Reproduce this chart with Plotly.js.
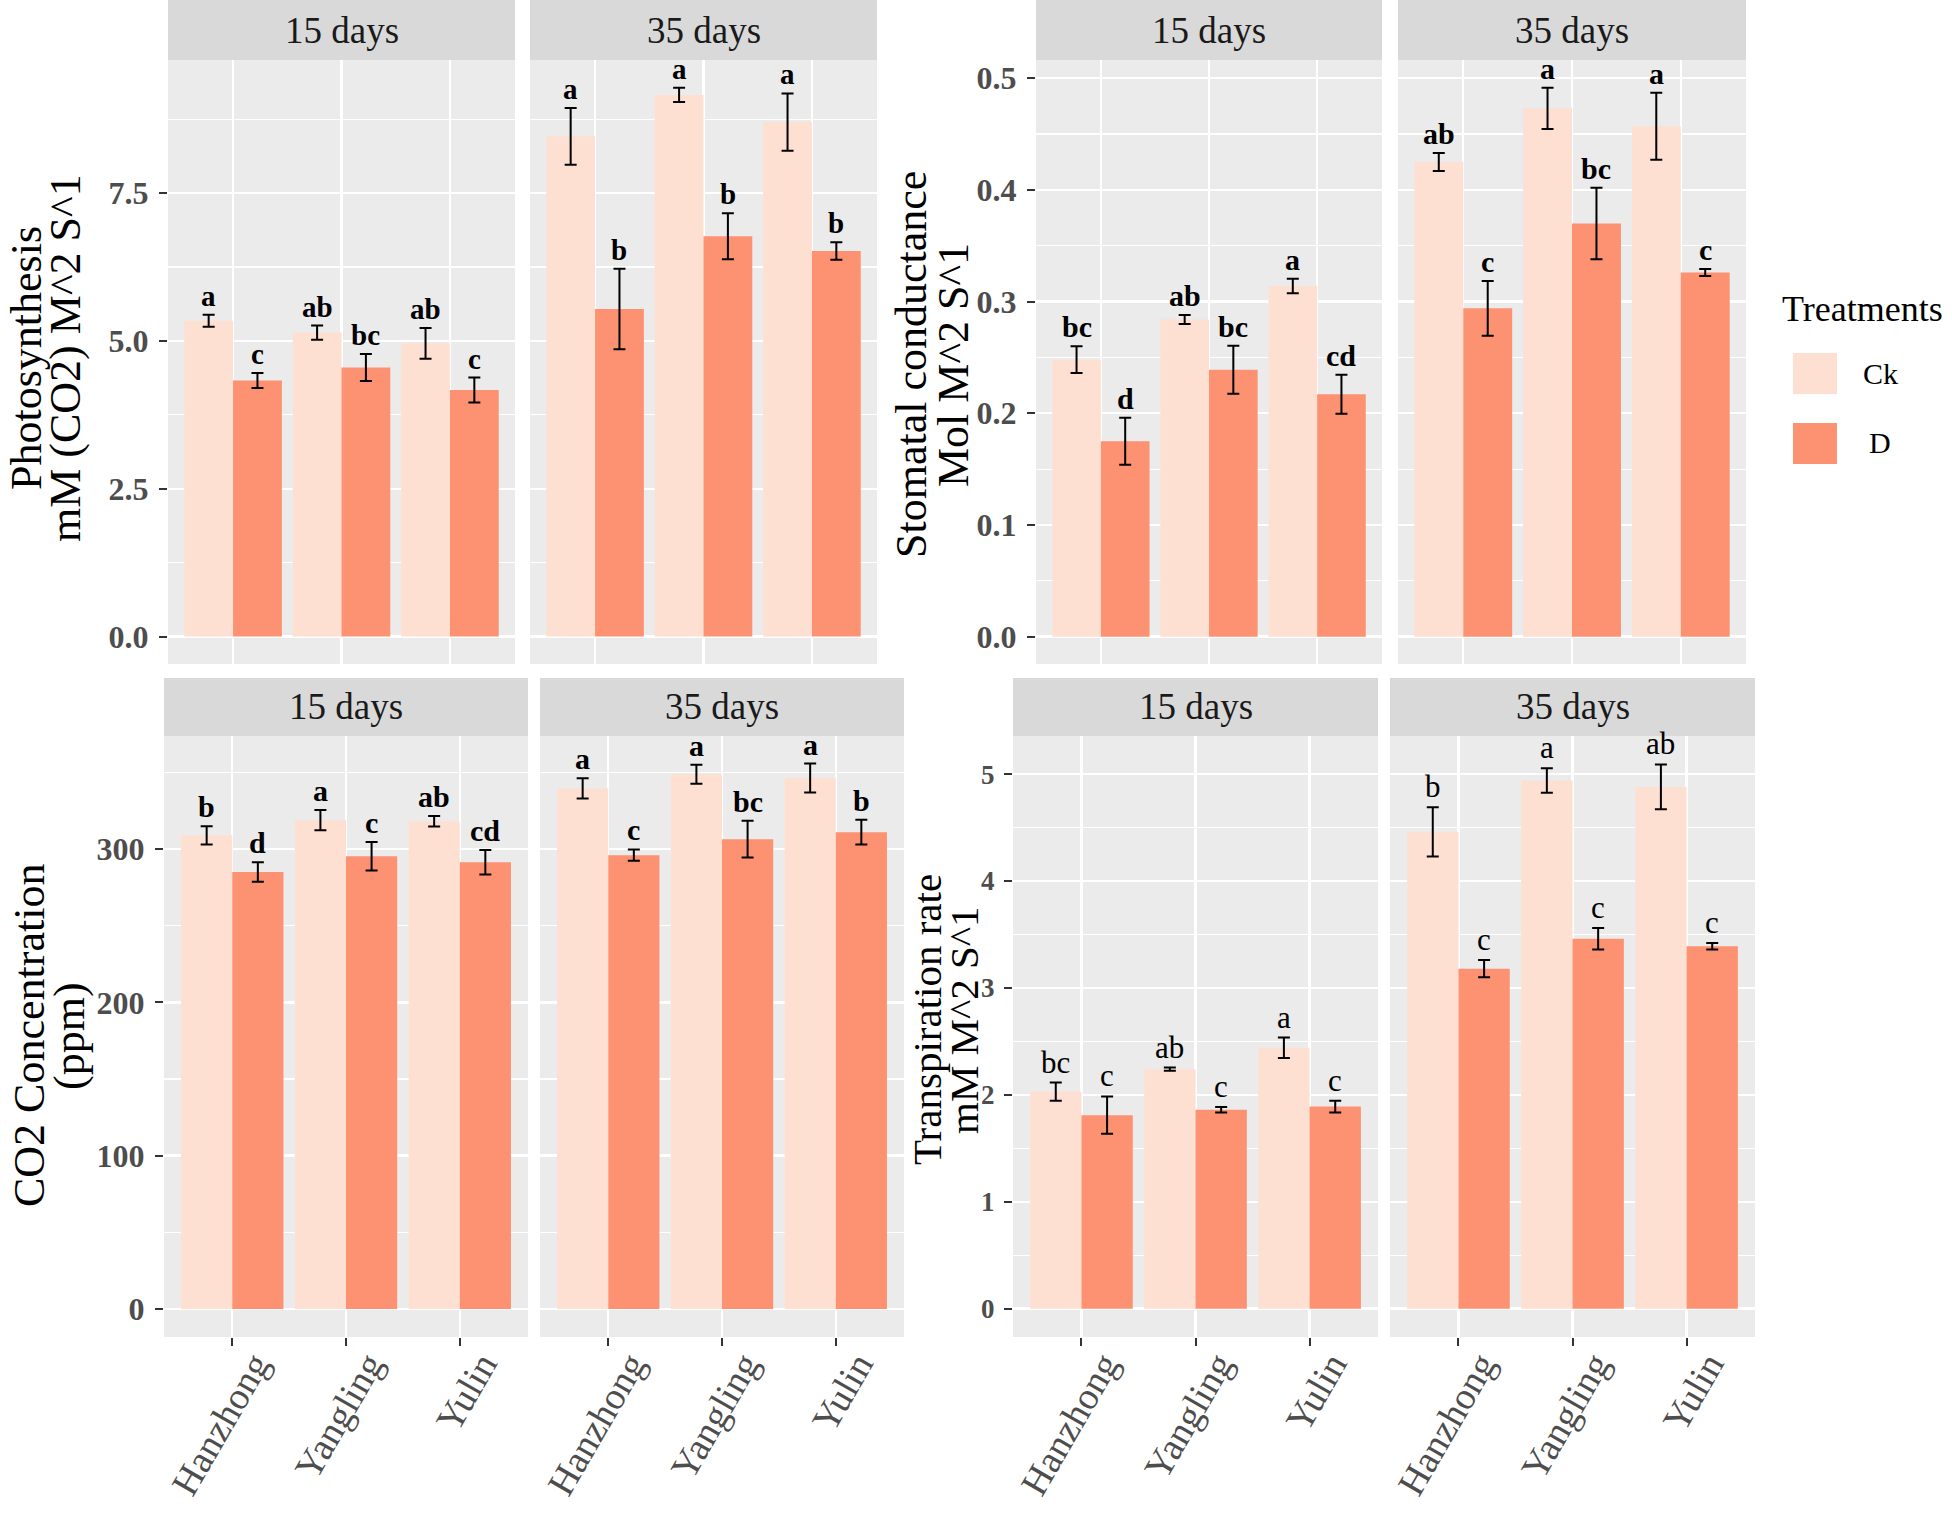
<!DOCTYPE html>
<html><head><meta charset="utf-8">
<script src="https://cdn.plot.ly/plotly-3.0.1.min.js"></script>
<style>html,body{margin:0;padding:0;background:#fff}</style>
</head><body><div id="chart" style="width:1952px;height:1516px"></div>
<script>
// ---------------- DATA ----------------
const sites = ['Hanzhong', 'Yangling', 'Yulin'];
const treatments = ['Ck', 'D'];
const periods = ['15 days', '35 days'];
const barColors = ['#FEE0D2', '#FC9272'];

// Photosynthesis
const photoCk15 = [5.34, 5.14, 4.96];  const photoCk15Se = [0.10, 0.12, 0.26];  const photoCk15Let = ['a', 'ab', 'ab'];
const photoD15  = [4.33, 4.55, 4.17];  const photoD15Se  = [0.125, 0.23, 0.21]; const photoD15Let  = ['c', 'bc', 'c'];
const photoCk35 = [8.46, 9.16, 8.70];  const photoCk35Se = [0.48, 0.12, 0.485]; const photoCk35Let = ['a', 'a', 'a'];
const photoD35  = [5.54, 6.77, 6.52];  const photoD35Se  = [0.68, 0.39, 0.15];  const photoD35Let  = ['b', 'b', 'b'];

// Stomatal conductance
const stomCk15 = [0.248, 0.284, 0.314]; const stomCk15Se = [0.012, 0.004, 0.0065];  const stomCk15Let = ['bc', 'ab', 'a'];
const stomD15  = [0.175, 0.239, 0.217]; const stomD15Se  = [0.021, 0.0215, 0.0175]; const stomD15Let  = ['d', 'bc', 'cd'];
const stomCk35 = [0.425, 0.473, 0.457]; const stomCk35Se = [0.008, 0.0185, 0.030];  const stomCk35Let = ['ab', 'a', 'a'];
const stomD35  = [0.294, 0.370, 0.326]; const stomD35Se  = [0.0245, 0.032, 0.0032]; const stomD35Let  = ['c', 'bc', 'c'];

// CO2 concentration
const co2Ck15 = [308.9, 318.8, 318.1]; const co2Ck15Se = [5.9, 6.6, 3.5];  const co2Ck15Let = ['b', 'a', 'ab'];
const co2D15  = [285.0, 295.3, 291.4]; const co2D15Se  = [6.4, 9.3, 8.0];  const co2D15Let  = ['d', 'c', 'cd'];
const co2Ck35 = [339.5, 348.8, 346.3]; const co2Ck35Se = [6.6, 6.2, 9.4];  const co2Ck35Let = ['a', 'a', 'a'];
const co2D35  = [296.0, 306.4, 311.0]; const co2D35Se  = [3.7, 12.0, 8.0]; const co2D35Let  = ['c', 'bc', 'b'];

// Transpiration rate
const tranCk15 = [2.03, 2.24, 2.44]; const tranCk15Se = [0.085, 0.015, 0.095]; const tranCk15Let = ['bc', 'ab', 'a'];
const tranD15  = [1.81, 1.86, 1.89]; const tranD15Se  = [0.175, 0.025, 0.055]; const tranD15Let  = ['c', 'c', 'c'];
const tranCk35 = [4.46, 4.94, 4.88]; const tranCk35Se = [0.23, 0.115, 0.21];   const tranCk35Let = ['b', 'a', 'ab'];
const tranD35  = [3.18, 3.46, 3.39]; const tranD35Se  = [0.08, 0.10, 0.03];    const tranD35Let  = ['c', 'c', 'c'];

// Axis titles
const titlePhoto = ['Photosynthesis', 'mM (CO2) M^2 S^1'];
const titleStom  = ['Stomatal conductance', 'Mol M^2 S^1'];
const titleCo2   = ['CO2 Concentration', '(ppm)'];
const titleTran  = ['Transpiration rate', 'mM M^2 S^1'];
const legendTitle = 'Treatments';

// ---------------- LAYOUT HELPERS ----------------
const W = 1952, H = 1516;
const FONT = 'Liberation Serif, Times New Roman, serif';
const px = v => v / W;
const py = v => 1 - v / H;

// groups: each is one ggplot with two facets
const groups = [
  { panels: [[168, 515], [530, 877]], stripTop: 0, stripBot: 60, bottom: 664,
    data: [[photoCk15, photoCk15Se, photoCk15Let, photoD15, photoD15Se, photoD15Let],
           [photoCk35, photoCk35Se, photoCk35Let, photoD35, photoD35Se, photoD35Let]],
    range: [-0.464, 9.75], dtick: 2.5, fmt: '.1f', tickSize: 32, letSize: 29, letWeight: 'bold',
    title: titlePhoto, titleSize: 44, titleX: [26, 65], titleY: 358, xlabels: false },
  { panels: [[1036, 1382], [1398, 1746]], stripTop: 0, stripBot: 60, bottom: 664,
    data: [[stomCk15, stomCk15Se, stomCk15Let, stomD15, stomD15Se, stomD15Let],
           [stomCk35, stomCk35Se, stomCk35Let, stomD35, stomD35Se, stomD35Let]],
    range: [-0.0245, 0.5163], dtick: 0.1, fmt: '.1f', tickSize: 32, letSize: 30, letWeight: 'bold',
    title: titleStom, titleSize: 44, titleX: [911, 953], titleY: 365, xlabels: false },
  { panels: [[164, 528], [540, 904]], stripTop: 678, stripBot: 736, bottom: 1337,
    data: [[co2Ck15, co2Ck15Se, co2Ck15Let, co2D15, co2D15Se, co2D15Let],
           [co2Ck35, co2Ck35Se, co2Ck35Let, co2D35, co2D35Se, co2D35Let]],
    range: [-18.3, 373.7], dtick: 100, fmt: 'd', tickSize: 32, letSize: 30, letWeight: 'bold',
    title: titleCo2, titleSize: 44, titleX: [29, 69], titleY: 1036, xlabels: true },
  { panels: [[1013, 1378], [1390, 1755]], stripTop: 678, stripBot: 736, bottom: 1337,
    data: [[tranCk15, tranCk15Se, tranCk15Let, tranD15, tranD15Se, tranD15Let],
           [tranCk35, tranCk35Se, tranCk35Let, tranD35, tranD35Se, tranD35Let]],
    range: [-0.265, 5.356], dtick: 1, fmt: 'd', tickSize: 27, letSize: 31, letWeight: 'normal',
    title: titleTran, titleSize: 41, titleX: [927, 964], titleY: 1020, xlabels: true }
];

const traces = [];
const shapes = [];
const annotations = [];
const layout = {
  width: W, height: H, autosize: false,
  margin: { l: 0, r: 0, t: 0, b: 0, pad: 0 },
  paper_bgcolor: '#FFFFFF', plot_bgcolor: '#EBEBEB',
  barmode: 'group', bargap: 0.1, bargroupgap: 0,
  showlegend: false,
  font: { family: FONT, color: '#000' }
};

let idx = 0;
groups.forEach(g => {
  g.panels.forEach((p, k) => {
    idx++;
    const sfx = idx === 1 ? '' : String(idx);
    const xr = 'x' + sfx, yr = 'y' + sfx;
    const d = g.data[k];
    // bars
    [0, 1].forEach(t => {
      traces.push({
        type: 'bar', x: sites, y: d[t * 3], name: treatments[t],
        marker: { color: barColors[t], line: { width: 0 } },
        error_y: { type: 'data', array: d[t * 3 + 1], visible: true, color: '#000000', thickness: 2, width: 6 },
        xaxis: xr, yaxis: yr, showlegend: false, hoverinfo: 'x+y+name'
      });
      // letters
      d[t * 3].forEach((m, i) => {
        annotations.push({
          xref: xr, yref: yr, x: i + (t === 0 ? -0.225 : 0.225), y: m + d[t * 3 + 1][i],
          text: d[t * 3 + 2][i], showarrow: false, xanchor: 'center', yanchor: 'bottom', yshift: 1,
          font: { family: FONT, size: g.letSize, color: '#000', weight: g.letWeight }
        });
      });
    });
    // axes
    layout['xaxis' + sfx] = {
      domain: [px(p[0]), px(p[1])], anchor: yr, type: 'category',
      categoryorder: 'array', categoryarray: sites, range: [-0.6, 2.6],
      showgrid: true, gridcolor: '#FFFFFF', gridwidth: 2.4, zeroline: false, showline: false,
      ticks: g.xlabels ? 'outside' : '', ticklen: 8, tickwidth: 2, tickcolor: '#333333',
      showticklabels: g.xlabels, tickangle: -60, ticklabelshift: 22, ticklabelstandoff: -19,
      tickfont: { family: FONT, size: 38, color: '#4D4D4D' }, fixedrange: true
    };
    layout['yaxis' + sfx] = {
      domain: [py(g.bottom), py(g.stripBot)], anchor: xr, range: g.range,
      tick0: 0, dtick: g.dtick, tickformat: g.fmt,
      showgrid: true, gridcolor: '#FFFFFF', gridwidth: 2.4, zeroline: false, showline: false,
      minor: { tick0: 0, dtick: g.dtick / 2, showgrid: true, gridcolor: '#FFFFFF', gridwidth: 1.2, ticks: '' },
      ticks: k === 0 ? 'outside' : '', ticklen: 8, tickwidth: 2, tickcolor: '#333333',
      showticklabels: k === 0, ticklabelstandoff: 4,
      tickfont: { family: FONT, size: g.tickSize, color: '#4D4D4D', weight: 'bold' }, fixedrange: true
    };
    // strip
    shapes.push({ type: 'rect', xref: 'paper', yref: 'paper', x0: px(p[0]), x1: px(p[1]),
      y0: py(g.stripBot), y1: py(g.stripTop), fillcolor: '#D9D9D9', line: { width: 0 } });
    annotations.push({ xref: 'paper', yref: 'paper', x: px((p[0] + p[1]) / 2), y: py((g.stripTop + g.stripBot) / 2),
      text: periods[k], showarrow: false, xanchor: 'center', yanchor: 'middle',
      font: { family: FONT, size: 37, color: '#1A1A1A' } });
  });
  // y title (two lines, ggplot lineheight 0.9)
  g.title.forEach((line, j) => {
    annotations.push({ xref: 'paper', yref: 'paper', x: px(g.titleX[j]), y: py(g.titleY),
      text: line, showarrow: false, textangle: -90, xanchor: 'center', yanchor: 'middle',
      font: { family: FONT, size: g.titleSize, color: '#000' } });
  });
});

// legend (drawn manually to match ggplot key size)
annotations.push({ xref: 'paper', yref: 'paper', x: px(1780), y: py(309), text: legendTitle,
  showarrow: false, xanchor: 'left', yanchor: 'middle', font: { family: FONT, size: 36, color: '#000' } });
const keyTops = [353, 423];
treatments.forEach((t, i) => {
  shapes.push({ type: 'rect', xref: 'paper', yref: 'paper', x0: px(1793), x1: px(1837),
    y0: py(keyTops[i] + 41), y1: py(keyTops[i]), fillcolor: barColors[i], line: { width: 0 } });
  annotations.push({ xref: 'paper', yref: 'paper', x: px(1880), y: py(keyTops[i] + 20),
    text: t, showarrow: false, xanchor: 'center', yanchor: 'middle',
    font: { family: FONT, size: 30, color: '#000' } });
});

layout.shapes = shapes;
layout.annotations = annotations;

Plotly.newPlot('chart', traces, layout, { displayModeBar: false, staticPlot: true });
</script>
</body></html>
